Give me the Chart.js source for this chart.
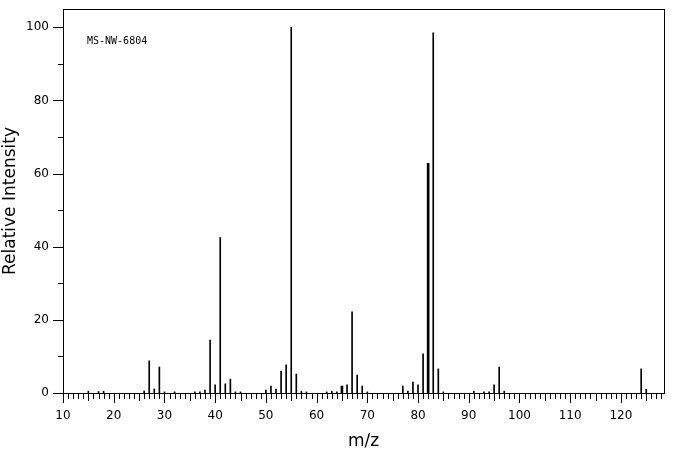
<!DOCTYPE html>
<html>
<head>
<meta charset="utf-8">
<script src="https://cdn.jsdelivr.net/npm/chart.js@4/dist/chart.umd.min.js"></script>
<style>
  html, body { margin: 0; padding: 0; background: #fff; }
  #wrap { width: 676px; height: 455px; }
</style>
</head>
<body>
<div id="wrap"><canvas id="spectrum"></canvas></div>
<script>
// peak list (m/z -> relative intensity)
const mz = [15, 17, 18, 26, 27, 28, 29, 30, 32, 36, 37, 38, 39, 40, 41, 42, 43, 44, 45,
  50, 51, 52, 53, 54, 55, 56, 57, 58, 62, 63, 64, 66, 67, 68, 69, 70,
  77, 78, 79, 80, 81, 83, 84, 85, 91, 93, 94, 95, 96, 97, 124, 125];
const intensity = [0.5, 0.4, 0.5, 0.5, 8.8, 1.1, 7.1, 0.3, 0.3, 0.3, 0.3, 0.8, 14.5, 2.2, 42.5, 2.5, 3.8, 0.3, 0.3,
  0.8, 1.9, 1.1, 6.0, 7.7, 100, 5.2, 0.5, 0.3, 0.3, 0.5, 0.3, 2.2, 22.2, 4.9, 1.9, 0.3,
  1.9, 0.5, 3.0, 2.2, 10.7, 98.5, 6.6, 0.3, 0.5, 0.3, 0.3, 2.2, 7.1, 0.5, 6.6, 1.0];
// peaks drawn as a slightly wider line in the original
const mzWide = [65, 82];
const intensityWide = [1.9, 62.8];

const sampleId = 'MS-NW-6804';

const toPoints = (xs, ys) => xs.map((v, i) => ({ x: v, y: ys[i] }));

// minor ticks + frame + sample label
const frame = {
  id: 'frame',
  afterDraw(chart) {
    const { ctx, chartArea: a, scales: { x, y } } = chart;
    ctx.save();
    ctx.strokeStyle = '#000';
    ctx.lineWidth = 1;
    ctx.beginPath();
    for (let v = Math.ceil(x.min); v <= x.max; v++) {
      const len = v % 10 === 0 ? 10 : (v % 5 === 0 ? 8 : 6);
      const px = Math.round(x.getPixelForValue(v)) + 0.5;
      ctx.moveTo(px, a.bottom);
      ctx.lineTo(px, a.bottom + len);
    }
    for (let v = 0; v <= y.max; v += 10) {
      const len = v % 20 === 0 ? 10 : 5;
      const py = Math.round(y.getPixelForValue(v)) + 0.5;
      ctx.moveTo(a.left - len, py);
      ctx.lineTo(a.left, py);
    }
    ctx.stroke();
    ctx.strokeRect(a.left + 0.5, a.top + 0.5, a.right - a.left, a.bottom - a.top);

    ctx.fillStyle = '#000';
    ctx.font = '10px "DejaVu Sans Mono"';
    ctx.textBaseline = 'middle';
    ctx.fillText(sampleId, a.left + 24, a.top + 32);
    ctx.restore();
  }
};

new Chart(document.getElementById('spectrum'), {
  type: 'bar',
  data: {
    datasets: [
      { data: toPoints(mz, intensity), backgroundColor: '#000', barThickness: 1, grouped: false },
      { data: toPoints(mzWide, intensityWide), backgroundColor: '#000', barThickness: 2, grouped: false }
    ]
  },
  options: {
    responsive: true,
    maintainAspectRatio: false,
    animation: false,
    layout: { padding: { top: 9, right: 12, bottom: 3, left: 0 } },
    plugins: { legend: { display: false }, tooltip: { enabled: false } },
    scales: {
      x: {
        type: 'linear',
        offset: false,
        min: 10,
        max: 128.5,
        grid: { display: false, drawTicks: false, offset: false },
        border: { display: false },
        ticks: { stepSize: 10, includeBounds: false, padding: 16, color: '#000', font: { family: 'DejaVu Sans', size: 12 } },
        title: { display: true, text: 'm/z', color: '#000', padding: 0, font: { family: 'DejaVu Sans', size: 17 } },
        afterFit: s => { s.height = 59; s.paddingLeft = 0; s.paddingRight = 0; }
      },
      y: {
        min: 0,
        max: 105,
        grid: { display: false, drawTicks: false },
        border: { display: false },
        ticks: { stepSize: 20, includeBounds: false, padding: 14, color: '#000', font: { family: 'DejaVu Sans', size: 12 } },
        title: { display: true, text: 'Relative Intensity', color: '#000', padding: 0, font: { family: 'DejaVu Sans', size: 17 } },
        afterFit: s => { s.width = 63; s.paddingTop = 0; s.paddingBottom = 0; }
      }
    }
  },
  plugins: [frame]
});
</script>
</body>
</html>
